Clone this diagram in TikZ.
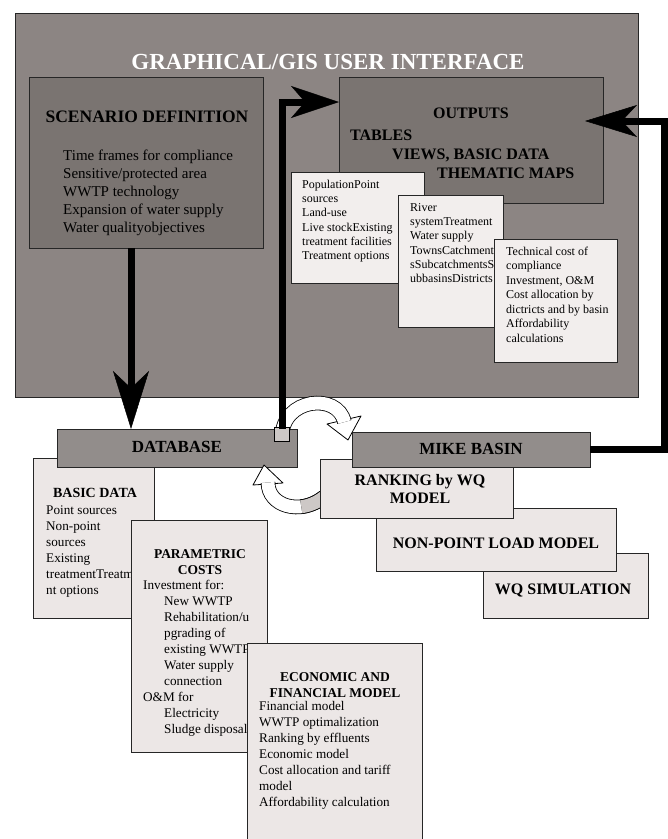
\documentclass[tikz,border=0pt]{standalone}
\usepackage{fontspec}
\setmainfont{Liberation Serif}
\usetikzlibrary{arrows.meta}
\definecolor{bigbg}{RGB}{140,133,131}
\definecolor{darkbox}{RGB}{122,116,113}
\definecolor{midbox}{RGB}{146,141,139}
\definecolor{lightbox}{RGB}{236,231,230}
\definecolor{palebox}{RGB}{242,238,237}
\definecolor{tailgray}{RGB}{205,200,198}
\begin{document}
\begin{tikzpicture}[x=1pt,y=-1pt,
 box/.style={draw=black!85, line width=0.9pt, anchor=north west, inner sep=0pt, outer sep=0pt},
 txt/.style={anchor=north west, inner sep=0pt, align=left},
 hd/.style={inner sep=0pt, align=center, font=\bfseries\fontsize{16}{18}\selectfont},
 bigarrow/.style={line width=7pt, draw=black},
 cband/.style={draw=black, line width=0.8pt, double=white, double distance=13pt},
 chead/.style={fill=white, draw=black, line width=0.8pt, line join=round},
 smalltxt/.style={txt, font=\fontsize{12}{14.3}\selectfont},
 lowtxt/.style={txt, font=\fontsize{13.2}{16}\selectfont}]
\useasboundingbox (0,0) rectangle (668,839);
\clip (0,0) rectangle (668,839);
\fill[white] (0,0) rectangle (668,839);

% GUI frame
\node[box, fill=bigbg, minimum width=623pt, minimum height=384pt] (gui) at (15,13) {};
\node[hd, text=white, font=\bfseries\fontsize{23}{26}\selectfont] (title) at (328,62) {GRAPHICAL/GIS USER INTERFACE};

% Scenario
\node[box, fill=darkbox, minimum width=234pt, minimum height=171pt] (scen) at (29,77) {};
\node[hd, font=\bfseries\fontsize{17.5}{20}\selectfont] (scenh) at (147,117) {SCENARIO DEFINITION};
\node[txt, font=\fontsize{15}{18}\selectfont] (scent) at (63,148) {\strut Time frames for compliance\\Sensitive/protected area\\WWTP technology\\Expansion of water supply\\Water qualityobjectives};

% Outputs
\node[box, fill=darkbox, minimum width=264pt, minimum height=126pt] (out) at (339,77) {};
\node[hd] (outh) at (471,113) {OUTPUTS};
\node[hd, anchor=west] (tab) at (350,135) {TABLES};
\node[hd, anchor=west] (views) at (392,155) {VIEWS, BASIC DATA};
\node[hd, anchor=west] (them) at (437,173) {THEMATIC MAPS};

\node[box, fill=palebox, minimum width=133pt, minimum height=111pt] (pop) at (291,172) {};
\node[smalltxt] (popt) at (302,178) {\strut PopulationPoint\\sources\\Land-use\\Live stockExisting\\treatment facilities\\Treatment options};

\node[box, fill=palebox, minimum width=105pt, minimum height=132pt] (riv) at (398,195) {};
\node[smalltxt] (rivt) at (410,201) {\strut River\\systemTreatment\\Water supply\\TownsCatchment\\sSubcatchmentsS\\ubbasinsDistricts};

\node[box, fill=palebox, minimum width=123pt, minimum height=123pt] (tech) at (494,239) {};
\node[txt, font=\fontsize{12}{14.5}\selectfont] (techt) at (506,245) {\strut Technical cost of\\compliance\\Investment, O\&M\\Cost allocation by\\dictricts and by basin\\Affordability\\calculations};

% Lower left boxes
\node[box, fill=lightbox, minimum width=121pt, minimum height=160pt] (basic) at (33,458) {};
\node[hd, font=\bfseries\fontsize{14}{16}\selectfont] (basich) at (95,493) {BASIC DATA};
\node[lowtxt] (basict) at (46,503) {\strut Point sources\\Non-point\\sources\\Existing\\treatmentTreatme\\nt options};

\node[box, fill=lightbox, minimum width=136pt, minimum height=232pt] (param) at (131,520) {};
\node[hd, font=\bfseries\fontsize{13.5}{16}\selectfont] (paramh) at (200,562) {PARAMETRIC\\COSTS};
\node[lowtxt] (paramt) at (143,578) {\strut Investment for:\\\hspace*{21pt}New WWTP\\\hspace*{21pt}Rehabilitation/u\\\hspace*{21pt}pgrading of\\\hspace*{21pt}existing WWTP\\\hspace*{21pt}Water supply\\\hspace*{21pt}connection\\O\&M for\\\hspace*{21pt}Electricity\\\hspace*{21pt}Sludge disposal};

\node[box, fill=lightbox, minimum width=175pt, minimum height=210pt] (econ) at (247,643) {};
\node[hd, font=\bfseries\fontsize{13.5}{16}\selectfont] (econh) at (335,685) {ECONOMIC AND\\FINANCIAL MODEL};
\node[lowtxt] (econt) at (259,699) {\strut Financial model\\WWTP optimalization\\Ranking by effluents\\Economic model\\Cost allocation and tariff\\model\\Affordability calculation};

% Database
\node[box, fill=midbox, minimum width=240pt, minimum height=38pt] (db) at (57,429) {};
\node[hd, font=\bfseries\fontsize{17}{20}\selectfont] (dbt) at (177,447) {DATABASE};

% Right stack
\node[box, fill=lightbox, minimum width=165pt, minimum height=65pt] (wq) at (483,553) {};
\node[hd] (wqt) at (563,590) {WQ SIMULATION};
\node[box, fill=lightbox, minimum width=240pt, minimum height=63pt] (np) at (376,508) {};
\node[hd] (npt) at (496,543) {NON-POINT LOAD MODEL};

% bottom curved arrow (back to database)
\filldraw[chead] (253,485) -- (264,465) -- (283,483) -- cycle;
\draw[cband] (324,497) .. controls (300,516) and (268,506) .. (268,482.5);
\draw[cband, double=tailgray] (324,497) .. controls (316.8,502.7) and (308.88,505.79) .. (301.32,506.73);

\node[box, fill=lightbox, minimum width=193pt, minimum height=59pt] (rank) at (320,459) {};
\node[hd] (rankt) at (420,489) {RANKING by WQ\\MODEL};
\node[box, fill=midbox, minimum width=238pt, minimum height=35pt] (mike) at (352,432) {};
\node[hd, font=\bfseries\fontsize{17}{20}\selectfont] (miket) at (471,449) {MIKE BASIN};

% top curved arrow (database to mike basin)
\filldraw[chead] (327,424) -- (348,440) -- (361,416) -- cycle;
\draw[cband] (282,437) .. controls (282,398) and (338,392) .. (344.4,422);
\filldraw[fill=tailgray, draw=black, line width=0.8pt] (274.7,427) rectangle (289.3,441);

% big arrows
\coordinate (downx) at (131,0);
\coordinate (upx) at (282,0);
\coordinate (upy) at (0,102);
\coordinate (rx) at (664,0);
\coordinate (tipR) at (585,121);
\draw[bigarrow, -{Stealth[length=58pt, width=36pt, inset=17pt, line width=0.5pt]}] (scen.south -| downx) -- (db.north -| downx);
\draw[bigarrow, -{Stealth[length=48pt, width=32pt, inset=14pt, line width=0.5pt]}] (db.north -| upx) |- (upy -| out.west);
\draw[bigarrow, -{Stealth[length=52pt, width=32pt, inset=15pt, line width=0.5pt]}] (mike.east) -- (mike.east -| rx) -- (rx |- tipR) -- (tipR);
\end{tikzpicture}
\end{document}
